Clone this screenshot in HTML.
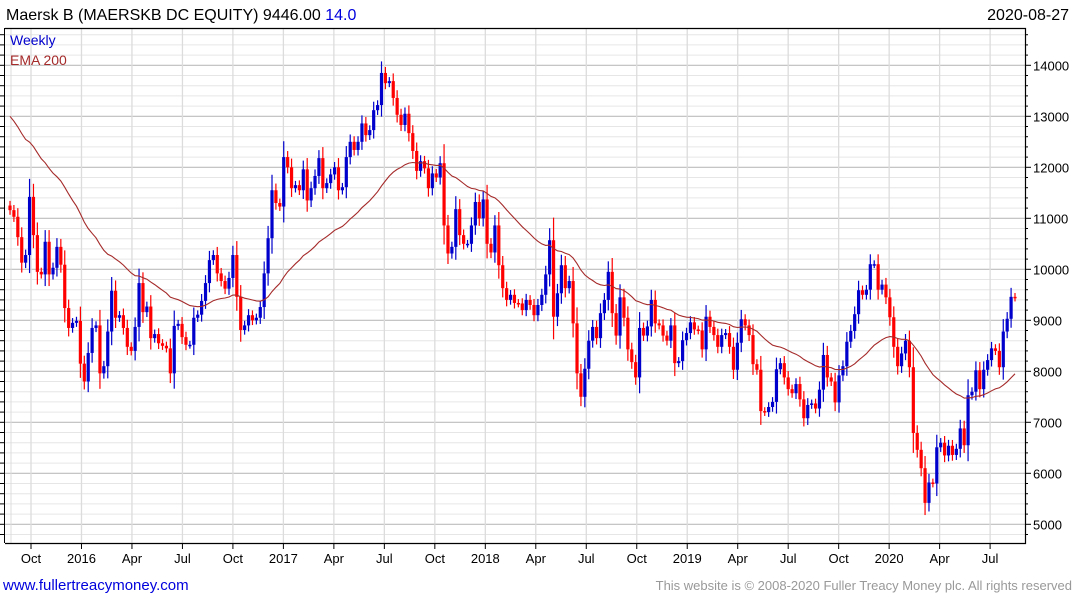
<!DOCTYPE html>
<html><head><meta charset="utf-8"><style>
body{margin:0;background:#fff;width:1075px;height:600px;overflow:hidden;font-family:"Liberation Sans",sans-serif}
svg{position:absolute;left:0;top:0}
</style></head><body>
<svg id="chart" width="1075" height="600" xmlns="http://www.w3.org/2000/svg">
<text x="6" y="20" font-size="16" fill="#000">Maersk B (MAERSKB DC EQUITY) 9446.00 <tspan fill="#0000dd">14.0</tspan></text>
<text x="1069" y="20" font-size="16" fill="#000" text-anchor="end">2020-08-27</text>
<g id="grid"></g><g id="marks"></g>
<text x="10" y="45" font-size="14" fill="#0000cc">Weekly</text>
<text x="10" y="65" font-size="14" fill="#a52a2a">EMA 200</text>
<text x="3" y="590" font-size="15" fill="#0000dd">www.fullertreacymoney.com</text>
<text x="1072" y="590" font-size="13" fill="#999" text-anchor="end">This website is © 2008-2020 Fuller Treacy Money plc. All rights reserved</text>
</svg>
<script>
const closes=[11160,11030,10630,10130,10280,11420,10670,9950,9900,10540,9900,10030,10440,10090,9240,8850,8950,8990,8150,7800,8360,8850,8900,7960,8100,8780,9580,9050,9100,8850,8480,8400,
8870,9730,9160,9270,8650,8730,8550,8500,8450,7960,8890,8930,8670,8520,8520,9050,9110,9380,9730,10180,10280,9920,9770,9620,9830,10280,9460,8810,8900,9100,9000,9050,9260,
9920,10610,11550,11300,11230,12200,12000,11590,11650,11550,11960,11350,11590,11830,12180,11590,11690,11860,12000,11550,11610,12200,12500,12340,12500,12860,12630,12730,13120,13220,
13850,13650,13690,13360,13030,12830,13050,12670,12320,11930,12120,11980,11590,11880,11800,12080,10860,10310,10440,11180,10670,10500,10500,10860,11320,11000,11370,10500,10330,10860,
10080,9630,9400,9500,9340,9330,9200,9400,9300,9100,9300,9500,9900,10570,9070,9530,10080,9630,9770,8940,7960,7500,8050,8600,8870,8650,9140,9400,9950,9140,8700,9450,9050,8430,8180,7880,8850,8700,8880,9400,8940,8900,8700,8600,8900,
8160,8200,8610,8750,8960,8820,8800,8430,9070,8870,8710,8480,8710,8750,8480,8030,8560,9020,8900,8710,8140,8030,7220,7200,7300,7400,8040,8160,
7880,7650,7570,7750,7450,7080,7340,7370,7270,7640,8320,7880,7800,7390,7920,8100,8580,8790,9120,9590,9500,9600,10100,10100,9600,9700,9450,9060,8480,8100,8350,8600,8080,6790,6460,6100,5420,5820,5800,6510,6600,6350,6540,6360,6480,6880,6550,7530,7600,8020,7650,8030,8220,8450,8400,8080,8780,9030,9460,9446];
const firstOpen=11250;
const emaSeed=13000;
const emaPeriod=40;
const yTicks=[5000,6000,7000,8000,9000,10000,11000,12000,13000,14000];
const xLabels=["Oct","2016","Apr","Jul","Oct","2017","Apr","Jul","Oct","2018","Apr","Jul","Oct","2019","Apr","Jul","Oct","2020","Apr","Jul"];
const xLabelWeeks=[7,20,33,46,59,72,85,98,111,124,137,150,163,176,189,202,215,228,241,254];

const NS="http://www.w3.org/2000/svg";
const X0=10,X1=1015,N=closes.length;
function xs(i){return X0+(X1-X0)*i/(N-1);}
function ys(v){return 524.3-(v-5000)*0.0510;}
function xw(w){return 31+(w-7)*3.883;}
function mk(p,tag,a){const e=document.createElementNS(NS,tag);for(const k in a)e.setAttribute(k,a[k]);p.appendChild(e);return e;}
const grid=document.getElementById('grid'),marks=document.getElementById('marks');
for(let v=4800;v<=14800;v+=200){const y=ys(v);if(y<29||y>542)continue;
 const major=v%1000===0;
 const l=mk(grid,'line',{x1:5,x2:1025,y1:y,y2:y,stroke:major?'#bdbdbd':'#e6e6e6','stroke-width':major?1.2:1});
 
 
 const t=mk(grid,'line',{x1:1025,x2:major?1031:1028,y1:y,y2:y,stroke:'#000'});
 
 
 const t2=mk(grid,'line',{x1:0,x2:4,y1:y,y2:y,stroke:'#000'});
 
 
}
yTicks.forEach(v=>{const t=mk(grid,'text',{x:1033,y:ys(v)+5,'font-size':13,fill:'#000'});t.textContent=v;
 
 });
const vg=mk(grid,'line',{x1:11,x2:11,y1:29,y2:543,stroke:'#dcdcdc'});


xLabels.forEach((s,i)=>{const x=xw(xLabelWeeks[i]);
 const l=mk(grid,'line',{x1:x,x2:x,y1:29,y2:543,stroke:'#dcdcdc','stroke-width':1.3});
 
 
 const tk=mk(grid,'line',{x1:x,x2:x,y1:543,y2:549,stroke:'#000'});
 
 
 const t=mk(grid,'text',{x:x,y:563,'font-size':13,fill:'#000','text-anchor':'middle'});t.textContent=s;
 
 });
const fr=mk(grid,'path',{d:'M5 28.5H1025.5V543.5H5',fill:'none',stroke:'#000','stroke-width':1.2});


const lf=mk(grid,'line',{x1:4.5,x2:4.5,y1:28,y2:543,stroke:'#000'});


let prev=firstOpen;
closes.forEach((c,i)=>{const o=prev;prev=c;const up=c>=o;const col=up?'#0000cc':'#ff0000';
 const x=xs(i),yt=ys(Math.max(o,c)),yb=ys(Math.min(o,c));const body=Math.max(yb-yt,1.5);
 const ext=3.5+body*0.25;
 const w=mk(marks,'line',{x1:x,x2:x,y1:yt-ext,y2:yb+ext,stroke:col,'stroke-width':1.2});
 
 
 const r=mk(marks,'rect',{x:x-1.6,y:yt,width:3.2,height:body,fill:col});
 
 
});
let e=emaSeed;const a=2/(emaPeriod+1);let d='';
closes.forEach((c,i)=>{e=i===0?emaSeed:e+a*(c-e);d+=(i?'L':'M')+xs(i).toFixed(1)+' '+ys(e).toFixed(1);});
const p=mk(marks,'path',{d:d,fill:'none',stroke:'#a52a2a','stroke-width':1.1});


</script>
</body></html>
